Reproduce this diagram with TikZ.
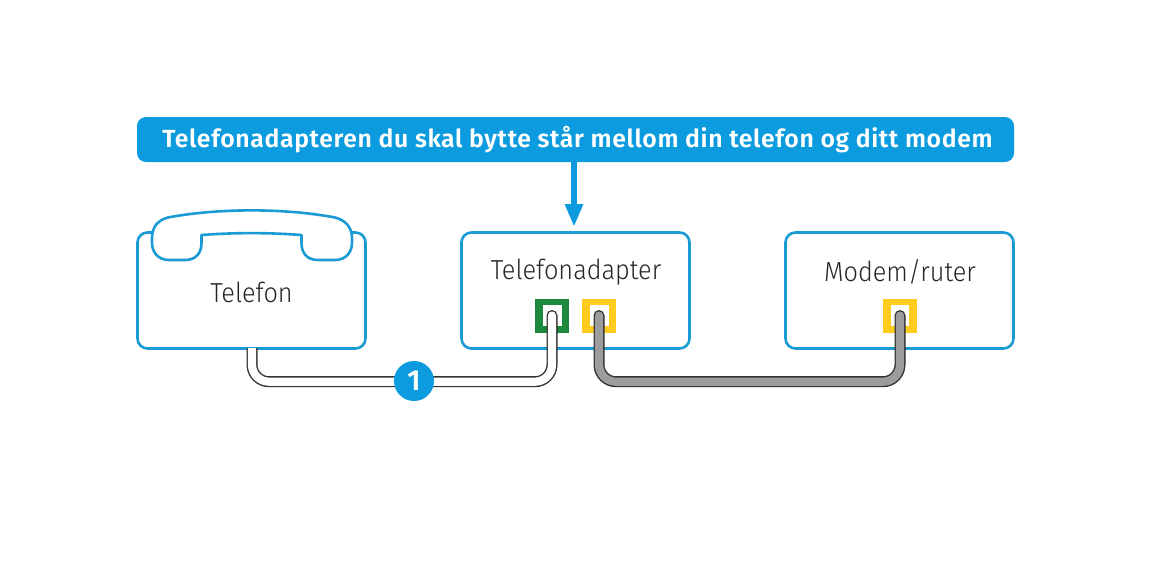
\documentclass[tikz,border=0pt]{standalone}
\usepackage{fontspec}
\setmainfont{Fira Sans Light}
\newfontfamily\devfont[FakeStretch=0.92]{Fira Sans Light}
\newfontfamily\headfont[LetterSpace=2.5]{Fira Sans SemiBold}
\newfontfamily\badgefont{Fira Sans SemiBold}
\usetikzlibrary{arrows.meta}
\definecolor{boxblue}{HTML}{1A9BD3}
\definecolor{hpblue}{HTML}{0D9BDF}
\definecolor{portgreen}{HTML}{1B8A3C}
\definecolor{portyellow}{HTML}{FFCC1E}
\definecolor{cablegray}{HTML}{9C9C9C}
\definecolor{cableline}{HTML}{333333}
\tikzset{
  x=1pt,y=-1pt,
  devicebox/.style={draw=boxblue,line width=2.6pt,rounded corners=10pt,fill=white,minimum width=228pt,minimum height=116pt,inner sep=0pt,outer sep=0pt},
  devicetext/.style={text=black!85,font=\devfont\fontsize{27.5}{30}\selectfont,inner sep=0pt},
  banner/.style={fill=hpblue,rounded corners=9pt,minimum width=877pt,minimum height=45pt,inner sep=0pt,outer sep=0pt,text=white},
  bannertext/.style={text=white,inner sep=0pt,font=\headfont\fontsize{24.8}{26}\selectfont},
  outerport/.style={minimum width=34pt,minimum height=34pt,inner sep=0pt,outer sep=0pt},
  innerport/.style={fill=white,minimum width=18.5pt,minimum height=20.5pt,inner sep=0pt,outer sep=0pt},
  whitecable/.style={draw=cableline,line width=1.4pt,double=white,double distance=8.2pt,line cap=round,rounded corners=17pt},
  graycable/.style={draw=cableline,line width=1.4pt,double=cablegray,double distance=8.2pt,line cap=round,rounded corners=17pt},
  handset/.style={draw=boxblue,line width=2.6pt,fill=white,line join=round},
  badge/.style={circle,fill=hpblue,minimum size=40pt,inner sep=0pt,outer sep=0pt,text=white,font=\badgefont\fontsize{29}{30}\selectfont},
  pointer/.style={draw=hpblue,line width=6pt,-{Triangle[width=17pt,length=23pt,fill=hpblue]}},
}
\begin{document}
\begin{tikzpicture}
\useasboundingbox (0,0) rectangle (1160,560);
\fill[white] (0,0) rectangle (1160,560);

\node[banner] (head) at (575.5,139.5) {};
\node[bannertext] (headtext) at (577.5,139.5) {Telefonadapteren du skal bytte står mellom din telefon og ditt modem};

\node[devicebox] (phone) at (251.5,290.5) {};
\node[devicebox] (adapter) at (575.5,290.5) {};
\node[devicebox] (modem) at (899.5,290.5) {};

% handset
\draw[handset] (201.5,235) .. controls (235,232.5) and (268,232.5) .. (301.5,235)
  -- (301.5,243) .. controls (301.5,254) and (308,260) .. (318,260)
  -- (335,260) .. controls (346,260) and (352,252) .. (352,243)
  -- (352,238) .. controls (352,227) and (345,220) .. (335,217.5)
  .. controls (285,208) and (218,208) .. (168,217.5)
  .. controls (158,220) and (152,227) .. (152,238)
  -- (152,243) .. controls (152,252) and (158,260) .. (169,260)
  -- (185,260) .. controls (195,260) and (201.5,254) .. (201.5,243) -- cycle;

\node[devicetext] (phonetext) at (251.5,292) {Telefon};
\node[devicetext] (adaptertext) at (576,272) {Telefonadapter};
\node[devicetext] (modemtext) at (900,272) {Modem/ruter};

% ports
\node[outerport,fill=portgreen] (pg) at (552,316) {};
\node[innerport] at (552.5,315.3) {};
\node[outerport,fill=portyellow] (py) at (599,316) {};
\node[innerport] at (599.3,315.3) {};
\node[outerport,fill=portyellow] (pm) at (900,316) {};
\node[innerport] at (900,315.3) {};

% cables
\coordinate (c1) at (252,349);
\coordinate (c2) at (552,315.5);
\coordinate (c3) at (599,315.5);
\coordinate (c4) at (900,315.5);
\begin{scope}
\clip (230,348) -- (500,348) -- (500,295) -- (570,295) -- (570,400) -- (230,400) -- cycle;
\draw[whitecable] (c1) ++(0,-5) |- (414,381.7) -| (c2);
\end{scope}
\draw[graycable] (c3) |- (750,381.7) -| (c4);

\node[badge] (one) at (414,381) {1};

\coordinate (tip) at (574,227);
\draw[pointer] (head.south -| tip) -- (tip);
\end{tikzpicture}
\end{document}
